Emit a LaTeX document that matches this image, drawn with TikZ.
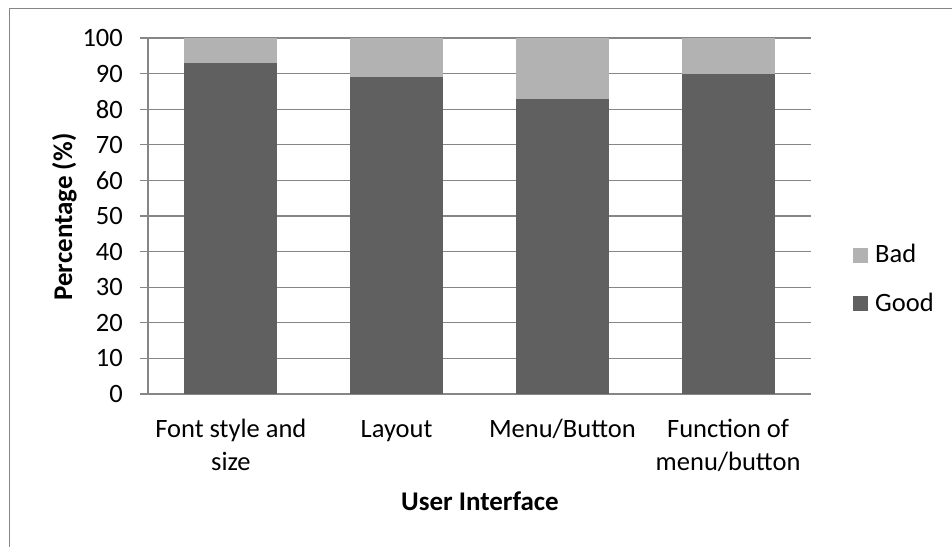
\documentclass[tikz,border=0pt]{standalone}
\usepackage{fontspec}
\setmainfont{Carlito}
\definecolor{goodfill}{RGB}{96,96,96}
\definecolor{badfill}{RGB}{178,178,178}
\definecolor{gridgray}{RGB}{134,134,134}
\begin{document}
\begin{tikzpicture}[x=1pt,y=-1pt,
  gridline/.style={draw=gridgray,line width=1.2pt},
  frameline/.style={draw=gridgray,line width=1pt},
  goodbar/.style={fill=goodfill,draw=none},
  badbar/.style={fill=badfill,draw=none},
  lbl/.style={inner sep=0pt,font=\fontsize{26.5}{33}\selectfont},
  boldlbl/.style={lbl,font=\fontsize{27}{33}\selectfont\bfseries}]
\useasboundingbox (0,0) rectangle (952,547);
% chart frame (open at right and bottom)
\draw[frameline] (952,8) -- (9,8) -- (9,547);
% value axis: 0 at y=394, 100 at y=38
\def\vy#1{394-3.56*#1}
% horizontal gridlines with tick labels
\foreach \v in {0,10,...,100}{
  \draw[gridline] (140,{\vy{\v}}) -- (811,{\vy{\v}});
  \node[lbl,anchor=east] (tick\v) at (123,{\vy{\v}}) {\v};
}
% bars: good part and bad part stacked to 100
\foreach \i/\g in {1/93,2/89,3/83,4/90}{
  \pgfmathsetmacro{\cx}{148+165.75*(\i-0.5)}
  \fill[goodbar] ({\cx-46.5},394) rectangle ({\cx+46.5},{\vy{\g}});
  \fill[badbar] ({\cx-46.5},{\vy{\g}}) rectangle ({\cx+46.5},38);
}
% value axis line
\draw[gridline] (148,38) -- (148,394);
% category labels
\node[lbl,anchor=base] (cat1a) at (230.9,437) {Font style and};
\node[lbl,anchor=base] (cat1b) at (230.9,470) {size};
\node[lbl,anchor=base] (cat2) at (396.6,437) {Layout};
\node[lbl,anchor=base] (cat3) at (562.4,437) {Menu/Button};
\node[lbl,anchor=base] (cat4a) at (728.1,437) {Function of};
\node[lbl,anchor=base] (cat4b) at (728.1,470) {menu/button};
% axis titles
\node[boldlbl,anchor=base] (xtitle) at (480,510) {User Interface};
\node[boldlbl,anchor=base,rotate=90] (ytitle) at (72,217) {Percentage (\%)};
% legend
\fill[badbar] (853,248) rectangle (868,263);
\node[lbl,anchor=base west] (legbad) at (875,262) {Bad};
\fill[goodbar] (853,296) rectangle (868,311);
\node[lbl,anchor=base west] (leggood) at (875,311) {Good};
\end{tikzpicture}
\end{document}
